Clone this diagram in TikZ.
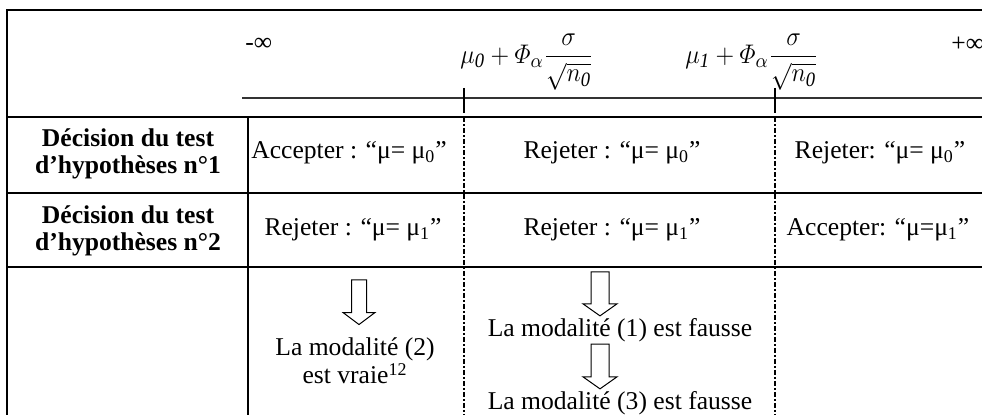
\documentclass[tikz,border=0pt]{standalone}
\usepackage{amsmath}
\usepackage{graphicx}
\usepackage{fontspec}
\setmainfont{Liberation Serif}
\usetikzlibrary{calc, positioning}
\tikzset{
  % Table styles
  frame/.style={line width=1pt, black},
  cutline/.style={line width=1.2pt, dash pattern=on 2.5pt off 0.9pt on 1.2pt off 0.9pt},
  axisline/.style={line width=1pt, black!80},
  celltext/.style={font=\fontsize{12.8}{13}\selectfont, inner sep=1pt, align=center},
  rowlabel/.style={celltext, font=\fontsize{12.8}{13.5}\selectfont\bfseries},
  formula/.style={celltext, font=\fontsize{13}{13}\selectfont},
  hollow/.style={line width=0.5pt, draw=black, fill=white},
}
% hollow down arrow: from, to, shaft half width, head half width
\newcommand{\hollowdown}[4]{%
  \draw[hollow] let \p1=(#1), \p2=(#2) in
    (\x1-#3,\y1) -- (\x1+#3,\y1) -- (\x1+#3,\y2+6pt) -- (\x1+#4,\y2+6pt)
    -- (\x1,\y2) -- (\x1-#4,\y2+6pt) -- (\x1-#3,\y2+6pt) -- cycle;}
% threshold mu + Phi sigma/sqrt(n)
\newcommand{\thres}[1]{\scalebox{1.02}[1.12]{$\mu_{\mathit{#1}}+\varPhi_{\alpha}\dfrac{\sigma}{\sqrt{n_{\mathit{0}}}}$}}
\begin{document}
\begin{tikzpicture}[x=0.5pt, y=-0.5pt]
    \useasboundingbox (0,0) rectangle (982,415);
    % Grid: x and y positions (pixels)
    \def\xL{7} \def\xC{248} \def\xA{464} \def\xB{775} \def\xR{995}
    \def\yT{10} \def\yH{117} \def\yA{193} \def\yB{267} \def\yE{425}
    % Frame and rows
    \draw[frame] (\xR,\yT) -- (\xL,\yT) -- (\xL,\yE);
    \foreach \y in {\yH, \yA, \yB} {
      \draw[frame] (\xL,\y) -- (\xR,\y);
    }
    \draw[frame] (\xC,\yH) -- (\xC,\yE);
    % Axis with two thresholds
    \draw[axisline] (242,98) -- (\xR,98);
    \foreach \x in {\xA, \xB} {
      \draw[line width=0.8pt] (\x,88) -- (\x,113);
      \draw[cutline] (\x,\yH) -- (\x,\yE);
    }
    % Header texts
    \node[celltext, anchor=west] (minf) at (243,44) {-∞};
    \node[formula, anchor=west] (thrA) at (458,62) {\thres{0}};
    \node[formula, anchor=west] (thrB) at (683,62) {\thres{1}};
    \node[celltext, anchor=west] (pinf) at (949,44) {+∞};
    % Row labels
    \node[rowlabel] (testA) at (128,154) {Décision du test\\d’hypothèses n°1};
    \node[rowlabel] (testB) at (128,231) {Décision du test\\d’hypothèses n°2};
    % Test n°1
    \node[celltext] (accA) at (349,153) {Accepter : “μ= μ\textsubscript{0}”};
    \node[celltext] (rejA) at (612,153) {Rejeter : “μ= μ\textsubscript{0}”};
    \node[celltext] (rejAA) at (880,153) {Rejeter: “μ= μ\textsubscript{0}”};
    % Test n°2
    \node[celltext] (rejB) at (353,230) {Rejeter : “μ= μ\textsubscript{1}”};
    \node[celltext] (rejBB) at (612,230) {Rejeter : “μ= μ\textsubscript{1}”};
    \node[celltext] (accB) at (878,230) {Accepter: “μ=μ\textsubscript{1}”};
    % Conclusions
    \node[celltext, inner ysep=6.5pt] (mod2) at (355,361) {La modalité (2)\\est vraie\textsuperscript{12}};
    \node[celltext] (mod1) at (620,330) {La modalité (1) est fausse};
    \node[celltext] (mod3) at (620,403) {La modalité (3) est fausse};
    \coordinate (arrA top) at (359,280);
    \coordinate (arrB top) at (600,272);
    % Hollow arrows
    \hollowdown{arrA top}{arrA top |- mod2.north}{3.75pt}{8pt}
    \hollowdown{arrB top}{arrB top |- mod1.north}{4.5pt}{8.5pt}
    \hollowdown{arrB top |- mod1.south}{arrB top |- mod3.north}{4.5pt}{8.5pt}
\end{tikzpicture}
\end{document}
